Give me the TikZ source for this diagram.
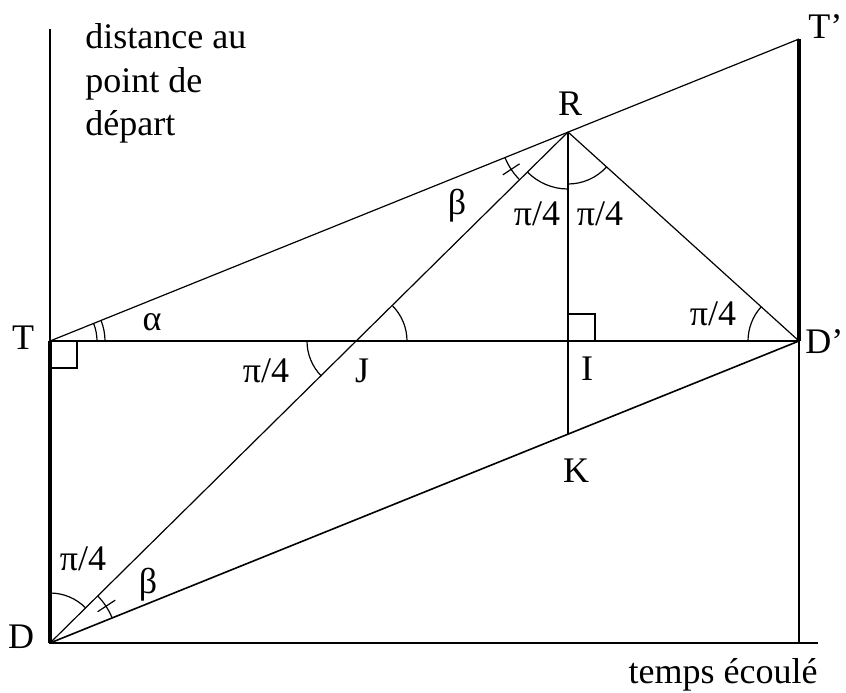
\documentclass[tikz,border=0pt]{standalone}
\usepackage{fontspec}
\setmainfont{Liberation Serif}
\begin{document}
\begin{tikzpicture}[x=0.5pt,y=0.5pt,
  font=\fontsize{18}{21.75}\selectfont,
  geo/.style={line width=0.6pt},
  heavy/.style={line width=2pt},
  lbl/.style={inner sep=0pt, anchor=base}]
\useasboundingbox (0,0) rectangle (846,-692);
% points
\coordinate (O) at (50,-643);
\coordinate (Ytop) at (50,-29);
\coordinate (Xend) at (818,-643);
\coordinate (T) at (50,-341);
\coordinate (Tp) at (799,-39);
\coordinate (D) at (50,-643);
\coordinate (Dp) at (799,-341);
\coordinate (Dpb) at (799,-643);
\coordinate (R) at (568,-132);
\coordinate (I) at (568,-341);
\coordinate (K) at (568,-434);
\coordinate (J) at (357,-341);
% axes
\draw[geo] (Ytop) -- (O) -- (Xend);
\draw[geo] (Dp) -- (Dpb);
% thick segments
\draw[heavy] (T) -- (D);
\draw[heavy] (Tp) -- (Dp);
% construction lines
\draw[geo] (T) -- (Tp);
\draw[geo] (T) -- (Dp);
\draw[line width=0.8pt] (D) -- (Dp);
\draw[geo] (D) -- (R);
\draw[geo] (R) -- (Dp);
\draw[geo] (R) -- (K);
% right angles
\draw[geo] ([shift={(0,-27)}]T) -- ++(27,0) -- ++(0,27);
\draw[geo] ([shift={(0,27)}]I) -- ++(27,0) -- ++(0,-27);
% angle at T (double)
\draw[geo] ([shift={(T)}]0:47) arc[start angle=0,end angle=21.96,radius=47];
\draw[geo] ([shift={(T)}]0:55) arc[start angle=0,end angle=21.96,radius=55];
% angles at J
\draw[geo] ([shift={(J)}]0:50) arc[start angle=0,end angle=44.7,radius=50];
\draw[geo] ([shift={(J)}]180:50) arc[start angle=180,end angle=224.6,radius=50];
% angles at R
\draw[geo] ([shift={(R)}]224.7:57) arc[start angle=224.7,end angle=270,radius=57];
\draw[geo] ([shift={(R)}]270:52) arc[start angle=270,end angle=317.9,radius=52];
\draw[geo] ([shift={(R)}]201.97:68) arc[start angle=201.97,end angle=224.7,radius=68];
\draw[geo] ([shift={(R)}]213.3:58) -- ([shift={(R)}]213.3:78);
% angles at D
\draw[geo] ([shift={(D)}]44.6:50) arc[start angle=44.6,end angle=90,radius=50];
\draw[geo] ([shift={(D)}]21.96:67) arc[start angle=21.96,end angle=44.6,radius=67];
\draw[geo] ([shift={(D)}]33.3:57) arc[start angle=33.3,end angle=33.3,radius=57];
\draw[geo] ([shift={(D)}]33.3:57) -- ([shift={(D)}]33.3:78);
% angle at D'
\draw[geo] ([shift={(Dp)}]137.9:51) arc[start angle=137.9,end angle=180,radius=51];
% labels
\node[lbl] (lT) at (23,-349) {T};
\node[lbl] (lD) at (21,-648) {D};
\node[lbl, anchor=base west] (lTp) at (808,-38) {T’};
\node[lbl, anchor=base west] (lDp) at (805,-353) {D’};
\node[lbl] (lR) at (570,-115) {R};
\node[lbl] (lI) at (587,-380) {I};
\node[lbl] (lK) at (576,-482) {K};
\node[lbl] (lJ) at (362,-382) {J};
\node[lbl] (aJ) at (266,-382) {π/4};
\node[lbl] (aT) at (152,-330) {α};
\node[lbl] (bR) at (457,-214) {β};
\node[lbl] (aRl) at (537,-225) {π/4};
\node[lbl] (aRr) at (600,-225) {π/4};
\node[lbl] (aDp) at (713,-325) {π/4};
\node[lbl] (aD) at (83,-570) {π/4};
\node[lbl] (bD) at (148,-593) {β};
\node[lbl, anchor=base east] (xlab) at (818,-683) {temps écoulé};
\node[inner sep=0pt, anchor=north west, align=left] (ylab) at (85,-23.4) {distance au\\point de\\départ};
\end{tikzpicture}
\end{document}
